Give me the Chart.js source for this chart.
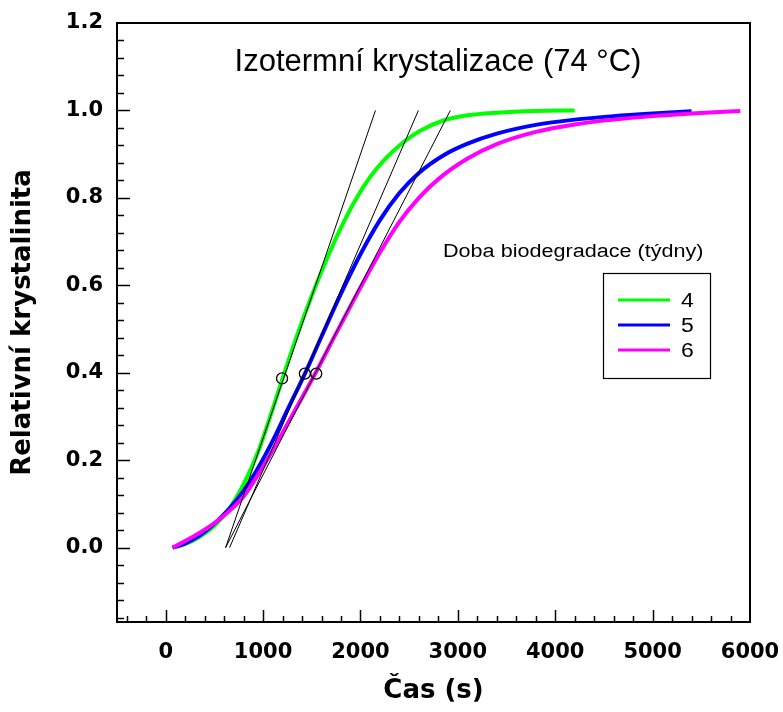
<!DOCTYPE html>
<html><head><meta charset="utf-8">
<script src="https://cdn.jsdelivr.net/npm/chart.js@4"></script>
<style>html,body{margin:0;padding:0;background:#fff;}</style>
</head><body>
<canvas id="c" width="783" height="712"></canvas>
<script>
// ---- data ----
const seriesLabels = ['4', '5', '6'];
const seriesColors = ['#00ff00', '#0000ff', '#ff00ff'];

const time4  = [70, 200, 350, 500, 650, 800, 950, 1100, 1200, 1350, 1500, 1650, 1800, 1950, 2100, 2250, 2400, 2600, 2850, 3100, 3400, 3800, 4200];
const cryst4 = [0, 0.008, 0.025, 0.05, 0.088, 0.145, 0.22, 0.318, 0.387, 0.486, 0.576, 0.658, 0.732, 0.796, 0.848, 0.888, 0.92, 0.952, 0.977, 0.989, 0.995, 0.999, 1.0];

const time5  = [70, 200, 350, 500, 650, 800, 950, 1100, 1250, 1430, 1600, 1800, 2000, 2200, 2400, 2600, 2850, 3100, 3400, 3800, 4200, 4600, 5000, 5400];
const cryst5 = [0, 0.01, 0.028, 0.055, 0.088, 0.13, 0.183, 0.245, 0.315, 0.398, 0.483, 0.581, 0.671, 0.749, 0.811, 0.857, 0.897, 0.924, 0.947, 0.967, 0.979, 0.987, 0.993, 0.998];

const time6  = [70, 200, 350, 500, 650, 800, 950, 1100, 1300, 1540, 1750, 2000, 2200, 2400, 2600, 2800, 3100, 3400, 3800, 4200, 4600, 5000, 5400, 5900];
const cryst6 = [0, 0.015, 0.034, 0.056, 0.083, 0.117, 0.167, 0.223, 0.303, 0.40, 0.49, 0.595, 0.675, 0.745, 0.80, 0.843, 0.89, 0.923, 0.951, 0.968, 0.979, 0.987, 0.993, 0.999];

// tangent lines (start time, end time) spanning crystallinity 0 -> 1
const tangentStart = [615, 656, 615];
const tangentEnd   = [2154, 2595, 2923];
const tangentCryst = [0, 1.0];

// marked inflection points
const markTime  = [1195, 1429, 1546];
const markCryst = [0.387, 0.398, 0.398];

const xTickValues = [0, 1000, 2000, 3000, 4000, 5000, 6000];
const yTickValues = [0.0, 0.2, 0.4, 0.6, 0.8, 1.0, 1.2];

const chartTitle = 'Izotermní krystalizace (74 °C)';
const legendTitle = 'Doba biodegradace (týdny)';
const xTitle = 'Čas (s)';
const yTitle = 'Relativní krystalinita';

// ---- build ----
const times = [time4, time5, time6];
const crysts = [cryst4, cryst5, cryst6];
const drawOrder = [4, 3, 2];

const datasets = [];
times.forEach((t, s) => {
  datasets.push({
    label: seriesLabels[s],
    data: t.map((x, i) => ({x: x, y: crysts[s][i]})),
    showLine: true,
    borderColor: seriesColors[s],
    backgroundColor: seriesColors[s],
    borderWidth: 4,
    pointRadius: 0,
    cubicInterpolationMode: 'monotone',
    fill: false,
    order: drawOrder[s]
  });
});
tangentStart.forEach((t0, s) => {
  datasets.push({
    label: 'tangent ' + seriesLabels[s],
    data: [{x: t0, y: tangentCryst[0]}, {x: tangentEnd[s], y: tangentCryst[1]}],
    showLine: true,
    borderColor: '#000',
    borderWidth: 1,
    pointRadius: 0,
    fill: false,
    order: 1
  });
});
datasets.push({
  label: 'marks',
  data: markTime.map((x, i) => ({x: x, y: markCryst[i]})),
  showLine: false,
  pointRadius: 5.5,
  pointStyle: 'circle',
  pointBorderColor: '#000',
  pointBackgroundColor: 'rgba(0,0,0,0)',
  pointBorderWidth: 1.3,
  order: 0
});

const decor = {
  id: 'decor',
  afterDraw(chart) {
    const ctx = chart.ctx;
    const a = chart.chartArea;
    const xs = chart.scales.x, ys = chart.scales.y;
    ctx.save();
    ctx.strokeStyle = '#000';
    // top & right frame
    ctx.lineWidth = 2;
    ctx.beginPath();
    ctx.moveTo(a.left, a.top); ctx.lineTo(a.right, a.top); ctx.lineTo(a.right, a.bottom);
    ctx.stroke();
    // inward ticks
    ctx.lineWidth = 1.5;
    ctx.beginPath();
    for (let i = -2; i <= 30; i++) {
      const v = i * 200;
      if (v <= xs.min || v >= xs.max) continue;
      const px = Math.round(xs.getPixelForValue(v)) + 0.5;
      const len = (i % 5 === 0) ? 12 : 6;
      ctx.moveTo(px, a.bottom); ctx.lineTo(px, a.bottom - len);
    }
    for (let i = -4; i <= 30; i++) {
      const v = i * 0.04;
      if (v <= ys.min || v >= ys.max - 1e-9) continue;
      const py = Math.round(ys.getPixelForValue(v)) + 0.5;
      const len = (i % 5 === 0) ? 13 : 7;
      ctx.moveTo(a.left, py); ctx.lineTo(a.left + len, py);
    }
    ctx.stroke();

    // title
    ctx.fillStyle = '#000';
    ctx.font = '31px "Liberation Sans", Arial, sans-serif';
    ctx.textAlign = 'center';
    ctx.textBaseline = 'alphabetic';
    ctx.fillText(chartTitle, 438, 71);

    // legend title (slightly widened)
    ctx.save();
    ctx.translate(443, 257);
    ctx.scale(1.2, 1);
    ctx.font = '18px "Liberation Sans", Arial, sans-serif';
    ctx.textAlign = 'left';
    ctx.fillText(legendTitle, 0, 0);
    ctx.restore();

    // legend box
    ctx.lineWidth = 1.2;
    ctx.strokeRect(603.5, 273.5, 107, 105);
    seriesLabels.forEach((lab, s) => {
      const y = 300 + s * 25;
      ctx.strokeStyle = seriesColors[s];
      ctx.lineWidth = 3;
      ctx.beginPath();
      ctx.moveTo(618, y); ctx.lineTo(670, y);
      ctx.stroke();
      ctx.save();
      ctx.translate(681, y + 7);
      ctx.scale(1.15, 1);
      ctx.fillStyle = '#000';
      ctx.font = '20px "Liberation Sans", Arial, sans-serif';
      ctx.textAlign = 'left';
      ctx.fillText(lab, 0, 0);
      ctx.restore();
    });
    ctx.restore();
  }
};

const tickFont = {family: '"DejaVu Sans", sans-serif', weight: 'bold', size: 21};
const titleFont = {family: '"DejaVu Sans", sans-serif', weight: 'bold', size: 26};

new Chart(document.getElementById('c'), {
  type: 'scatter',
  data: {datasets: datasets},
  options: {
    responsive: false,
    animation: false,
    devicePixelRatio: 1,
    layout: {padding: {top: 23, right: 33, left: 0, bottom: 0}},
    plugins: {legend: {display: false}, tooltip: {enabled: false}, title: {display: false}},
    scales: {
      x: {
        type: 'linear', min: -500, max: 6000,
        afterBuildTicks: s => { s.ticks = xTickValues.map(v => ({value: v})); },
        afterFit: s => { s.height = 90; s.paddingLeft = 0; s.paddingRight = 0; },
        grid: {display: false, drawTicks: false},
        border: {display: true, color: '#000', width: 2},
        ticks: {font: tickFont, color: '#000', padding: 18, maxRotation: 0, autoSkip: false,
                callback: v => String(v)},
        title: {display: true, text: xTitle, font: titleFont, color: '#000', padding: {top: 0, bottom: 5}}
      },
      y: {
        type: 'linear', min: -0.17, max: 1.2,
        afterBuildTicks: s => { s.ticks = yTickValues.map(v => ({value: v})); },
        afterFit: s => { s.width = 117; s.paddingTop = 0; s.paddingBottom = 0; },
        grid: {display: false, drawTicks: false},
        border: {display: true, color: '#000', width: 2},
        ticks: {font: tickFont, color: '#000', padding: 14, autoSkip: false,
                callback: v => Number(v).toFixed(1)},
        title: {display: true, text: yTitle, font: titleFont, color: '#000', padding: {top: 8, bottom: 0}}
      }
    }
  },
  plugins: [decor]
});
</script>
</body></html>
